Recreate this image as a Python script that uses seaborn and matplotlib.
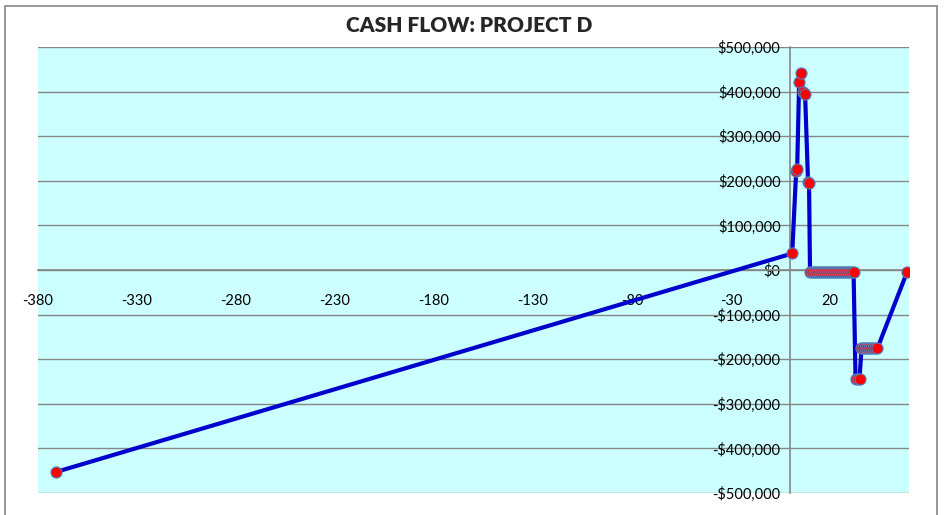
import numpy as np
import pandas as pd
import matplotlib
matplotlib.use("Agg")
import matplotlib.pyplot as plt
import seaborn as sns
from matplotlib.patches import Rectangle
from matplotlib.ticker import FuncFormatter

# --- DATA ---
periods = [-371, 1, 3, 3.5, 4.5, 5.5, 6.5, 7.5, 9, 9.5,
           10, 11, 12, 13, 14, 15, 16, 17, 18, 19, 20, 21, 22, 23, 24,
           25, 26, 27, 28, 29, 30, 31, 32,
           33, 34, 35,
           36, 37, 38, 39, 40, 41, 42, 43, 44,
           59]
cash = [-453000, 37000, 222000, 226000, 421000, 441000, 398000, 395000, 198000, 194000,
        -5000, -5000, -5000, -5000, -5000, -5000, -5000, -5000, -5000, -5000, -5000, -5000, -5000, -5000, -5000,
        -5000, -5000, -5000, -5000, -5000, -5000, -5000, -5000,
        -245000, -245000, -245000,
        -176000, -176000, -176000, -176000, -176000, -176000, -176000, -176000, -176000,
        -5000]
x_ticks = np.arange(-380, 21, 50)
y_ticks = np.arange(-500000, 500001, 100000)
title = "CASH FLOW: PROJECT D"

df = pd.DataFrame({"period": periods, "cash": cash})

sns.set_style("white")
plt.rcParams['font.family'] = ['Lato', 'DejaVu Sans']

fig = plt.figure(figsize=(9.49, 5.15), dpi=100)
ax = fig.add_axes([38 / 949, 1 - 493 / 515, (909 - 38) / 949, (493 - 47) / 515])
ax.set_facecolor('#CCFFFF')

sns.lineplot(data=df, x='period', y='cash', sort=False, ax=ax,
             color='#0000CC', lw=3, marker='o', markersize=8,
             markerfacecolor='red', markeredgecolor='#4F81BD',
             markeredgewidth=0.8, zorder=4)

ax.set_xlim(-380, 60)
ax.set_ylim(-500000, 500000)
ax.set_xticks(x_ticks)
ax.set_yticks(y_ticks)

def money(v, pos):
    if v == 0:
        return '$0'
    s = f"${abs(v):,.0f}"
    return '-' + s if v < 0 else s

ax.yaxis.set_major_formatter(FuncFormatter(money))
ax.xaxis.set_major_formatter(FuncFormatter(lambda v, p: f"{v:.0f}"))

# grid and axes crossing at zero
ax.grid(axis='y', color='#868686', lw=1)
ax.grid(axis='x', visible=False)
ax.set_axisbelow(True)
for s in ['top', 'right']:
    ax.spines[s].set_visible(False)
ax.spines['left'].set_position(('data', 0))
ax.spines['bottom'].set_position(('data', 0))
for s in ['left', 'bottom']:
    ax.spines[s].set_color('#868686')
    ax.spines[s].set_linewidth(1.2)

ax.tick_params(axis='x', direction='out', length=5, color='#868686', pad=12,
               labelsize=10.5, labelcolor='black')
ax.tick_params(axis='y', direction='out', length=5, color='#868686', pad=2,
               labelsize=10.5, labelcolor='black')
ax.set_xlabel('')
ax.set_ylabel('')

fig.text(469 / 949, 1 - 25 / 515, title, ha='center', va='center',
         fontsize=15, fontweight='heavy')

# chart area border
fig.patches.append(Rectangle((4.5 / 949, 1 - 525 / 515), (937 - 4.5) / 949, (525 - 6) / 515,
                             transform=fig.transFigure, fill=False,
                             edgecolor='#868686', lw=1.2, clip_on=False))

fig.savefig('out.png', dpi=100)
